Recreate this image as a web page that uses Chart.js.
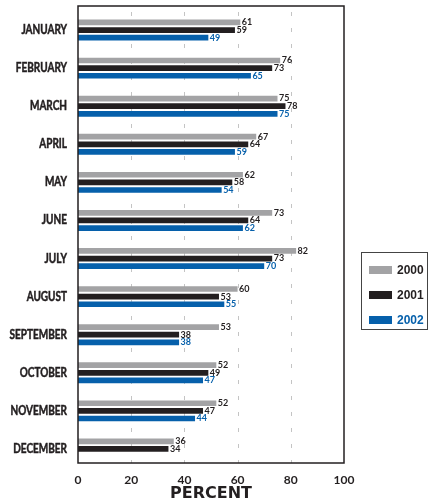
<!DOCTYPE html>
<html>
<head>
<meta charset="utf-8">
<script src="https://cdn.jsdelivr.net/npm/chart.js@4"></script>
<style>
  body { margin: 0; background: #fff; }
  #wrap { position: relative; width: 440px; height: 500px; }
  #legend {
    position: absolute; left: 361px; top: 252px; width: 67px; height: 78px;
    border: 1px solid #444; box-sizing: border-box; padding-top: 4px;
    font: bold 12px "Liberation Sans", Arial, sans-serif;
  }
  #legend div { display: flex; align-items: center; height: 25px; padding-left: 7px; }
  #legend span.sw { display: inline-block; width: 23px; height: 8px; margin-right: 5px; flex: none; }
</style>
</head>
<body>
<div id="wrap">
  <canvas id="chart" width="440" height="500"></canvas>
  <div id="legend"></div>
</div>
<script>
// Monthly percentages by year
const months = ['JANUARY', 'FEBRUARY', 'MARCH', 'APRIL', 'MAY', 'JUNE', 'JULY',
    'AUGUST', 'SEPTEMBER', 'OCTOBER', 'NOVEMBER', 'DECEMBER'];
const years = ['2000', '2001', '2002'];
const values2000 = [61, 76, 75, 67, 62, 73, 82, 60, 53, 52, 52, 36];
const values2001 = [59, 73, 78, 64, 58, 64, 73, 53, 38, 49, 47, 34];
const values2002 = [49, 65, 75, 59, 54, 62, 70, 55, 38, 47, 44, null];
const xTicks = [0, 20, 40, 60, 80, 100];

const barColors = ['#a3a3a5', '#231f20', '#0660ab'];
const labelColors = ['#231f20', '#231f20', '#0660ab'];
const frameShift = 5; // frame sits a little above the bar bands

// frame + dashed gridlines + month labels
const framePlugin = {
    id: 'frame',
    beforeDatasetsDraw(chart) {
        const a = chart.chartArea, c = chart.ctx, x = chart.scales.x;
        c.save();
        c.strokeStyle = '#c4c4c4';
        c.lineWidth = 1;
        c.setLineDash([4, 12]);
        xTicks.slice(1, -1).forEach(v => {
            const px = Math.round(x.getPixelForValue(v)) + 0.5;
            c.beginPath();
            c.moveTo(px, a.top - frameShift + 6);
            c.lineTo(px, a.bottom - frameShift);
            c.stroke();
        });
        c.restore();
    },
    afterDraw(chart) {
        const a = chart.chartArea, c = chart.ctx, y = chart.scales.y;
        c.save();
        c.strokeStyle = '#231f20';
        c.lineWidth = 1.5;
        c.strokeRect(a.left, a.top - frameShift, a.right - a.left, a.bottom - a.top);
        c.fillStyle = '#231f20';
        c.lineWidth = 0.5;
        c.font = 'bold 12.5px Lato, sans-serif';
        c.textAlign = 'right';
        c.textBaseline = 'middle';
        months.forEach((m, i) => {
            c.save();
            c.translate(a.left - 11, y.getPixelForTick(i));
            c.scale(0.8, 1);
            c.fillText(m, 0, 0);
            c.strokeText(m, 0, 0);
            c.restore();
        });
        c.restore();
    }
};

// numbers at the end of each bar
const valueLabels = {
    id: 'valueLabels',
    afterDatasetsDraw(chart) {
        const c = chart.ctx;
        c.save();
        c.font = 'bold 9px Lato, sans-serif';
        c.textBaseline = 'middle';
        chart.data.datasets.forEach((ds, i) => {
            chart.getDatasetMeta(i).data.forEach((bar, j) => {
                if (ds.data[j] == null) return;
                c.fillStyle = labelColors[i];
                c.fillText(ds.data[j], bar.x + 1.5, bar.y);
            });
        });
        c.restore();
    }
};

const chart = new Chart(document.getElementById('chart'), {
    type: 'bar',
    data: {
        labels: months,
        datasets: [values2000, values2001, values2002].map((d, i) => ({
            label: years[i],
            data: d,
            backgroundColor: barColors[i],
            categoryPercentage: 0.6,
            barPercentage: 0.75
        }))
    },
    options: {
        indexAxis: 'y',
        responsive: false,
        animation: false,
        layout: { autoPadding: false, padding: { left: 0, right: 96, top: 11, bottom: 0 } },
        plugins: { legend: { display: false }, tooltip: { enabled: false } },
        scales: {
            x: {
                min: 0, max: 100,
                afterBuildTicks: s => { s.ticks = xTicks.map(v => ({ value: v })); },
                afterFit: s => { s.height = 32; },
                border: { display: false },
                grid: { display: false, drawTicks: false },
                ticks: {
                    padding: 5,
                    color: '#231f20',
                    font: { family: 'Lato', weight: 'bold', size: 12 }
                },
                title: {
                    display: true,
                    text: 'PERCENT',
                    color: '#231f20',
                    padding: { top: 0, bottom: 0 },
                    font: { family: 'DejaVu Sans', weight: 'bold', size: 16, lineHeight: 0.8 }
                }
            },
            y: {
                afterFit: s => { s.width = 78; },
                border: { display: false },
                grid: { display: false },
                ticks: { display: false }
            }
        }
    },
    plugins: [framePlugin, valueLabels]
});

// legend box
const legend = document.getElementById('legend');
years.forEach((y, i) => {
    const row = document.createElement('div');
    row.innerHTML = '<span class="sw" style="background:' + barColors[i] + '"></span>' +
        '<span style="color:' + labelColors[i] + '">' + y + '</span>';
    legend.appendChild(row);
});
</script>
</body>
</html>
